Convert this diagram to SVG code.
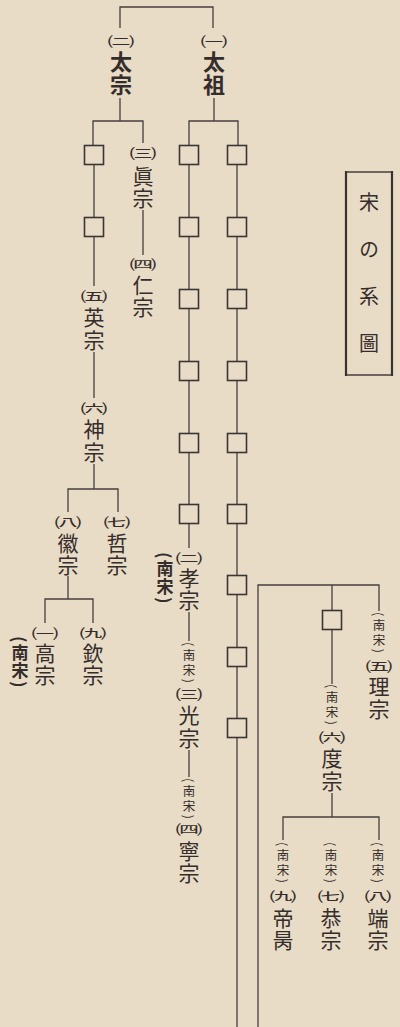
<svg xmlns="http://www.w3.org/2000/svg" width="400" height="1027" viewBox="0 0 400 1027">
<style>
text{font-family:"Noto Sans CJK JP","Noto Sans CJK SC",sans-serif;fill:#352d2b;text-anchor:middle;dominant-baseline:central}
.v{writing-mode:vertical-rl;text-anchor:start}
.n{font-size:21px;font-weight:400}
.b{font-size:22px;font-weight:700}
.p{font-size:20px}
.s{font-size:12.5px;letter-spacing:2.5px}
.sb{font-size:17px;font-weight:700;letter-spacing:1.5px}
.t{font-size:20px;letter-spacing:27px}
.ln{fill:none;stroke:#463e3c;stroke-width:1.3}
.sq{fill:none;stroke:#3b3535;stroke-width:1.6}
</style>
<rect width="400" height="1027" fill="#e8dcc6"/>
<g id="connectors" class="ln">
<path d="M120,28V7H213V28"/>
<path d="M120,98V121M93,145V121H143V143"/>
<path d="M214,98V121M189,145V121H238V145"/>
<path d="M94,164V217M94,237V286M94,352V398M94,464V489M68,512V489H118V512M68,576V599M45,623V599H93V623"/>
<path d="M143,210V255"/>
<path d="M189,164V217M189,236V289M189,308V361M189,380V433M189,452V504M189,523V548M189,612V641M189,750V777"/>
<path d="M237,164V217M237,236V289M237,308V361M237,380V433M237,452V504M237,523V575M237,594V647M237,666V718M237,737V1027"/>
<path d="M258,1027V585H379V611M332,585V610M332,629V684M332,793V817M283,840V817H379V840"/>
</g>
<g id="title">
<path d="M346,172H392M346,375H392" class="ln"/>
<path d="M346,171V376M392,171V376" fill="none" stroke="#3b3232" stroke-width="2.2"/>
<text class="v t" x="369" y="192">宋の系圖</text>
</g>
<g id="taizong">
<text class="p" transform="translate(121 40) scale(1.35 0.65)">㈡</text>
<text class="v b" x="121" y="51" letter-spacing="1">太宗</text>
</g>
<g id="taizu">
<text class="p" transform="translate(214 40) scale(1.35 0.65)">㈠</text>
<text class="v b" x="214" y="51" letter-spacing="1">太祖</text>
</g>
<g id="zhenzong">
<text class="p" transform="translate(143 152) scale(1.35 0.65)">㈢</text>
<text class="v n" x="143" y="165.5" letter-spacing="1">眞宗</text>
</g>
<g id="renzong">
<text class="p" transform="translate(143 263) scale(1.35 0.65)">㈣</text>
<text class="v n" x="143" y="274.5" letter-spacing="1">仁宗</text>
</g>
<g id="yingzong">
<text class="p" transform="translate(94 295) scale(1.35 0.65)">㈤</text>
<text class="v n" x="94" y="306.5" letter-spacing="2">英宗</text>
</g>
<g id="shenzong">
<text class="p" transform="translate(94 407) scale(1.35 0.65)">㈥</text>
<text class="v n" x="94" y="418.5" letter-spacing="2">神宗</text>
</g>
<g id="huizong">
<text class="p" transform="translate(68 521) scale(1.35 0.65)">㈧</text>
<text class="v n" x="68" y="532.5" letter-spacing="1">徽宗</text>
</g>
<g id="zhezong">
<text class="p" transform="translate(117 521) scale(1.35 0.65)">㈦</text>
<text class="v n" x="117" y="532.5" letter-spacing="1">哲宗</text>
</g>
<g id="gaozong">
<text class="v sb" x="20" y="636">(南宋)</text>
<text class="p" transform="translate(45 632) scale(1.35 0.65)">㈠</text>
<text class="v n" x="45" y="642.5" letter-spacing="1">高宗</text>
</g>
<g id="qinzong">
<text class="p" transform="translate(93 632) scale(1.35 0.65)">㈨</text>
<text class="v n" x="93" y="642.5" letter-spacing="1">欽宗</text>
</g>
<g id="sq-a1"><rect class="sq" x="84.5" y="145.5" width="19" height="19"/></g>
<g id="sq-a2"><rect class="sq" x="84.5" y="217.5" width="19" height="19"/></g>
<g id="sq-b1"><rect class="sq" x="179.5" y="145.5" width="19" height="19"/></g>
<g id="sq-b2"><rect class="sq" x="179.5" y="217.5" width="19" height="19"/></g>
<g id="sq-b3"><rect class="sq" x="179.5" y="289.5" width="19" height="19"/></g>
<g id="sq-b4"><rect class="sq" x="179.5" y="361.5" width="19" height="19"/></g>
<g id="sq-b5"><rect class="sq" x="179.5" y="433.5" width="19" height="19"/></g>
<g id="sq-b6"><rect class="sq" x="179.5" y="504.5" width="19" height="19"/></g>
<g id="sq-c1"><rect class="sq" x="227.5" y="145.5" width="19" height="19"/></g>
<g id="sq-c2"><rect class="sq" x="227.5" y="217.5" width="19" height="19"/></g>
<g id="sq-c3"><rect class="sq" x="227.5" y="289.5" width="19" height="19"/></g>
<g id="sq-c4"><rect class="sq" x="227.5" y="361.5" width="19" height="19"/></g>
<g id="sq-c5"><rect class="sq" x="227.5" y="433.5" width="19" height="19"/></g>
<g id="sq-c6"><rect class="sq" x="227.5" y="504.5" width="19" height="19"/></g>
<g id="sq-c7"><rect class="sq" x="227.5" y="575.5" width="19" height="19"/></g>
<g id="sq-c8"><rect class="sq" x="227.5" y="647.5" width="19" height="19"/></g>
<g id="sq-c9"><rect class="sq" x="227.5" y="718.5" width="19" height="19"/></g>
<g id="sq-d1"><rect class="sq" x="322.5" y="610.5" width="19" height="19"/></g>
<g id="xiaozong">
<text class="v sb" x="165" y="552">(南宋)</text>
<text class="p" transform="translate(189 557) scale(1.35 0.65)">㈡</text>
<text class="v n" x="189" y="567.5" letter-spacing="1">孝宗</text>
</g>
<g id="guangzong">
<text class="v s" x="189" y="642">(南宋)</text>
<text class="p" transform="translate(189 693) scale(1.35 0.65)">㈢</text>
<text class="v n" x="189" y="704.5" letter-spacing="2">光宗</text>
</g>
<g id="ningzong">
<text class="v s" x="189" y="778">(南宋)</text>
<text class="p" transform="translate(189 828) scale(1.35 0.65)">㈣</text>
<text class="v n" x="189" y="840.5" letter-spacing="1">寧宗</text>
</g>
<g id="lizong">
<text class="v s" x="379" y="612">(南宋)</text>
<text class="p" transform="translate(379 665) scale(1.35 0.65)">㈤</text>
<text class="v n" x="379" y="675.5" letter-spacing="2">理宗</text>
</g>
<g id="duzong">
<text class="v s" x="332" y="684">(南宋)</text>
<text class="p" transform="translate(332 736) scale(1.35 0.65)">㈥</text>
<text class="v n" x="332" y="747.5" letter-spacing="2">度宗</text>
</g>
<g id="dibing">
<text class="v s" x="283" y="842">(南宋)</text>
<text class="p" transform="translate(283 895) scale(1.35 0.65)">㈨</text>
<text class="v n" x="283" y="907.5" letter-spacing="1">帝昺</text>
</g>
<g id="gongzong">
<text class="v s" x="331" y="842">(南宋)</text>
<text class="p" transform="translate(331 895) scale(1.35 0.65)">㈦</text>
<text class="v n" x="331" y="907.5" letter-spacing="1">恭宗</text>
</g>
<g id="duanzong">
<text class="v s" x="378" y="842">(南宋)</text>
<text class="p" transform="translate(378 895) scale(1.35 0.65)">㈧</text>
<text class="v n" x="378" y="907.5" letter-spacing="1">端宗</text>
</g>
</svg>
